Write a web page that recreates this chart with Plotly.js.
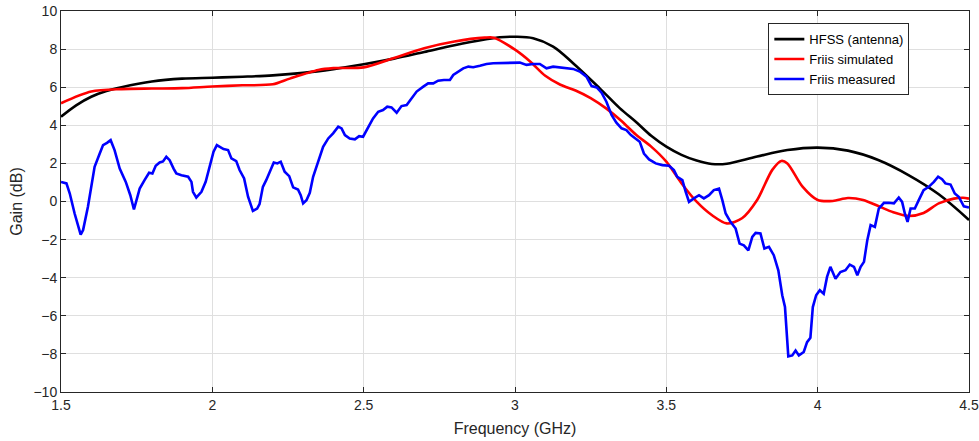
<!DOCTYPE html>
<html>
<head>
<meta charset="utf-8">
<script src="https://cdn.plot.ly/plotly-3.0.1.min.js"></script>
<style>html,body{margin:0;padding:0;background:#fff;}#chart{width:979px;height:441px;}</style>
</head>
<body>
<div id="chart"></div>
<script>
// HFSS (antenna)
const hfssFreq = [1.5,1.55,1.6,1.65,1.7,1.8,1.9,2.0,2.1,2.2,2.3,2.4,2.5,2.6,2.7,2.8,2.9,2.95,3.0,3.06,3.126,3.192,3.28,3.346,3.4,3.45,3.5,3.55,3.6,3.65,3.7,3.8,3.9,4.0,4.1,4.2,4.3,4.4,4.5];
const hfssGain = [4.45,5.05,5.5,5.8,6.0,6.3,6.45,6.5,6.55,6.62,6.75,6.95,7.2,7.5,7.85,8.2,8.5,8.62,8.65,8.57,8.13,7.26,5.94,4.9,4.17,3.45,2.88,2.45,2.15,1.97,1.98,2.36,2.7,2.83,2.67,2.18,1.39,0.38,-0.97];

// Friis simulated
const simFreq = [1.5,1.6,1.7,1.8,1.9,2.0,2.1,2.2,2.256,2.35,2.4,2.5,2.6,2.7,2.8,2.9,2.93,3.0,3.05,3.1,3.15,3.2,3.25,3.3,3.35,3.4,3.45,3.5,3.55,3.6,3.65,3.7,3.75,3.8,3.85,3.88,3.9,3.95,4.0,4.05,4.1,4.15,4.2,4.25,4.3,4.35,4.4,4.45,4.48,4.5];
const simGain = [5.16,5.77,5.9,5.93,5.95,6.04,6.1,6.15,6.45,6.9,7.0,7.04,7.53,8.05,8.4,8.6,8.6,7.97,7.35,6.6,6.13,5.83,5.43,4.9,4.25,3.5,2.88,2.09,0.96,-0.01,-0.71,-1.15,-0.88,0.08,1.66,2.13,2.0,0.78,0.08,0.03,0.18,0.08,-0.24,-0.57,-0.76,-0.6,-0.1,0.15,0.2,0.15];

// Friis measured
const measFreq = [1.5,1.518,1.529,1.545,1.565,1.573,1.589,1.611,1.628,1.639,1.652,1.664,1.677,1.694,1.714,1.729,1.741,1.751,1.76,1.776,1.791,1.802,1.813,1.826,1.837,1.848,1.859,1.872,1.881,1.898,1.92,1.931,1.936,1.947,1.964,1.978,1.991,2.004,2.015,2.026,2.037,2.052,2.063,2.079,2.09,2.105,2.118,2.134,2.148,2.156,2.167,2.178,2.189,2.203,2.215,2.226,2.239,2.254,2.267,2.283,2.292,2.3,2.311,2.322,2.333,2.35,2.366,2.383,2.399,2.416,2.427,2.438,2.454,2.471,2.485,2.498,2.515,2.531,2.548,2.564,2.578,2.592,2.609,2.625,2.642,2.658,2.675,2.697,2.713,2.73,2.746,2.765,2.785,2.796,2.813,2.829,2.846,2.862,2.884,2.906,2.928,2.95,2.972,2.994,3.016,3.038,3.06,3.082,3.104,3.126,3.148,3.17,3.192,3.214,3.236,3.253,3.27,3.286,3.302,3.319,3.335,3.352,3.368,3.383,3.4,3.412,3.426,3.443,3.465,3.487,3.509,3.525,3.536,3.553,3.564,3.575,3.591,3.608,3.624,3.641,3.657,3.674,3.685,3.696,3.712,3.729,3.742,3.756,3.771,3.784,3.795,3.811,3.824,3.839,3.855,3.87,3.883,3.892,3.903,3.916,3.927,3.938,3.954,3.965,3.976,3.984,3.995,4.007,4.02,4.031,4.042,4.059,4.075,4.092,4.106,4.12,4.131,4.142,4.153,4.164,4.175,4.189,4.202,4.219,4.235,4.252,4.268,4.279,4.288,4.297,4.307,4.321,4.334,4.35,4.367,4.384,4.398,4.411,4.422,4.439,4.453,4.466,4.483,4.5];
const measGain = [1.03,0.95,0.42,-0.63,-1.74,-1.5,-0.28,1.82,2.52,2.96,3.08,3.22,2.7,1.73,1.03,0.33,-0.42,0.16,0.68,1.12,1.51,1.47,1.88,2.05,2.1,2.35,2.17,1.73,1.47,1.38,1.3,1.03,0.51,0.21,0.51,1.03,1.82,2.61,2.96,2.87,2.75,2.7,2.26,2.12,1.65,1.21,0.25,-0.49,-0.37,-0.14,0.77,1.12,1.56,2.05,2.0,2.09,1.56,1.33,0.74,0.63,0.33,-0.1,0.07,0.46,1.3,2.17,2.87,3.31,3.58,3.93,3.84,3.49,3.31,3.26,3.43,3.4,3.93,4.36,4.71,4.8,4.98,4.94,4.66,5.01,5.06,5.42,5.77,6.03,6.2,6.2,6.34,6.38,6.38,6.64,6.82,6.99,7.08,7.05,7.13,7.22,7.26,7.26,7.29,7.26,7.29,7.17,7.22,7.22,6.99,7.08,7.03,6.99,6.96,6.82,6.55,6.06,5.99,5.71,5.24,4.54,4.14,3.84,3.75,3.49,3.31,3.14,2.52,2.21,2.0,1.91,1.88,1.65,1.3,1.12,0.51,-0.02,0.16,0.33,0.16,0.33,0.6,0.68,0.07,-0.63,-1.07,-1.42,-2.21,-2.3,-2.56,-1.86,-1.65,-1.68,-2.47,-2.38,-2.82,-3.61,-4.92,-5.54,-8.13,-8.08,-7.82,-8.08,-7.9,-7.38,-7.15,-5.54,-4.92,-4.66,-4.84,-3.96,-3.43,-4.05,-3.7,-3.61,-3.31,-3.43,-3.87,-3.43,-3.17,-2.03,-1.24,-1.33,-0.37,-0.07,-0.07,-0.1,0.21,-0.02,-0.63,-1.07,-0.37,-0.37,0.07,0.6,0.77,1.03,1.3,1.17,0.95,0.89,0.42,0.25,-0.25,-0.32];

const xTicks = [1.5,2,2.5,3,3.5,4,4.5];
const xTickText = ['1.5','2','2.5','3','3.5','4','4.5'];
const yTicks = [-10,-8,-6,-4,-2,0,2,4,6,8,10];

const FONT = 'Liberation Sans, Arial, Helvetica, sans-serif';

const traces = [
  {x: hfssFreq, y: hfssGain, name: 'HFSS (antenna)', mode: 'lines', line: {color: '#000000', width: 2.6, shape: 'spline', smoothing: 1}},
  {x: simFreq, y: simGain, name: 'Friis simulated', mode: 'lines', line: {color: '#ff0000', width: 2.6, shape: 'spline', smoothing: 0.8}},
  {x: measFreq, y: measGain, name: 'Friis measured', mode: 'lines', line: {color: '#0000ff', width: 2.6}}
];

const axisCommon = {
  showgrid: true, gridcolor: '#dfdfdf', gridwidth: 1,
  showline: true, linecolor: '#262626', linewidth: 1, mirror: 'ticks',
  ticks: 'inside', ticklen: 5, tickcolor: '#262626', tickwidth: 1,
  zeroline: false,
  tickfont: {family: FONT, size: 14, color: '#262626'}
};

const layout = {
  width: 979, height: 441,
  margin: {l: 61, r: 10, t: 11, b: 49},
  paper_bgcolor: '#ffffff', plot_bgcolor: '#ffffff',
  font: {family: FONT, color: '#262626'},
  showlegend: true,
  legend: {
    x: 0.779, y: 0.968, xanchor: 'left', yanchor: 'top',
    bgcolor: '#ffffff', bordercolor: '#262626', borderwidth: 1,
    font: {family: FONT, size: 13, color: '#000000'},
    tracegroupgap: 0, itemwidth: 30
  },
  xaxis: Object.assign({}, axisCommon, {
    range: [1.5, 4.5], tickvals: xTicks, ticktext: xTickText,
    title: {text: 'Frequency (GHz)', font: {family: FONT, size: 16, color: '#262626'}, standoff: 11}
  }),
  yaxis: Object.assign({}, axisCommon, {
    range: [-10, 10], tickvals: yTicks,
    title: {text: 'Gain (dB)', font: {family: FONT, size: 16, color: '#262626'}, standoff: 6}
  })
};

Plotly.newPlot('chart', traces, layout, {displayModeBar: false, staticPlot: true});
</script>
</body>
</html>
